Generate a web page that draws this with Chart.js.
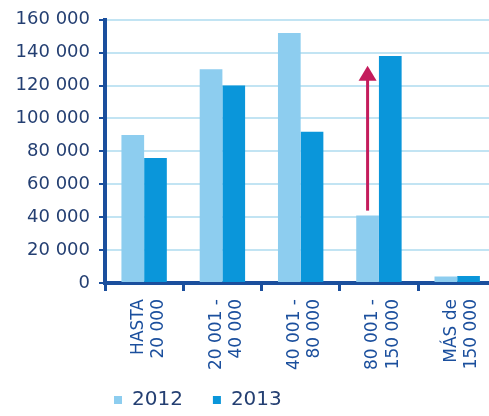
<!DOCTYPE html>
<html lang="es">
<head>
    <meta charset="UTF-8">
    <title>Declarantes por tramo de renta</title>
    <script src="https://cdn.jsdelivr.net/npm/chart.js"></script>
    <style>
        * {
            margin: 0;
            padding: 0;
            box-sizing: border-box;
        }

        body {
            background: #ffffff;
            overflow: hidden;
            width: 489px;
            height: 416px;
        }

        canvas {
            display: block;
        }
    </style>
</head>
<body>
    <canvas id="tramos" width="506" height="416"></canvas>

    <script>
        // tramos de renta (etiquetas en dos líneas)
        const categories = [
            ['HASTA', '20 000'],
            ['20 001 -', '40 000'],
            ['40 001 -', '80 000'],
            ['80 001 -', '150 000'],
            ['MÁS de', '150 000']
        ];
        const seriesNames = ['2012', '2013'];
        const values2012 = [90000, 130000, 152000, 41000, 4000];
        const values2013 = [76000, 120000, 92000, 138000, 4300];
        const yTicks = [0, 20000, 40000, 60000, 80000, 100000, 120000, 140000, 160000];

        // flecha de subida en el tramo 80 001 - 150 000
        const arrowIndex = 3;
        const arrowFrom = 44000;
        const arrowTo = 132000;

        const axisBlue = '#1b4f9d';
        const labelBlue = '#243f72';
        const gridBlue = '#c2e4f3';

        // separador de miles con espacio
        const fmt = v => String(v).replace(/\B(?=(\d{3})+(?!\d))/g, ' ');

        // dibuja la flecha sobre la barra de 2012
        const arrowPlugin = {
            id: 'arrow',
            afterDatasetsDraw(chart) {
                const bar = chart.getDatasetMeta(0).data[arrowIndex];
                const y = chart.scales.y;
                const x = bar.x;
                const y1 = y.getPixelForValue(arrowFrom);
                const y2 = y.getPixelForValue(arrowTo);
                const ctx = chart.ctx;
                ctx.save();
                ctx.strokeStyle = '#c41c5c';
                ctx.fillStyle = '#c41c5c';
                ctx.lineWidth = 3;
                ctx.beginPath();
                ctx.moveTo(x, y1);
                ctx.lineTo(x, y2 + 12);
                ctx.stroke();
                ctx.beginPath();
                ctx.moveTo(x, y2);
                ctx.lineTo(x - 9, y2 + 15);
                ctx.lineTo(x + 9, y2 + 15);
                ctx.closePath();
                ctx.fill();
                ctx.restore();
            }
        };

        // leyenda compacta: altura fija y alineada bajo el eje
        const legendPlace = {
            id: 'legendPlace',
            beforeLayout(chart) {
                const lg = chart.legend;
                if (lg && !lg._fitFixed) {
                    const fit = lg.fit;
                    lg.fit = function () {
                        fit.call(this);
                        this.height = 34;
                    };
                    lg._fitFixed = true;
                }
            },
            afterLayout(chart) {
                const lg = chart.legend;
                lg.left = 84;
                lg.top = 360;
            }
        };

        new Chart(document.getElementById('tramos'), {
            type: 'bar',
            data: {
                labels: categories,
                datasets: [
                    {
                        label: seriesNames[0],
                        data: values2012,
                        backgroundColor: '#8dcdef'
                    },
                    {
                        label: seriesNames[1],
                        data: values2013,
                        backgroundColor: '#0a96da'
                    }
                ]
            },
            options: {
                responsive: false,
                animation: false,
                layout: {
                    padding: { top: 6, right: 0, left: 0, bottom: 0 }
                },
                datasets: {
                    bar: {
                        categoryPercentage: 0.58,
                        barPercentage: 1.0
                    }
                },
                plugins: {
                    tooltip: { enabled: false },
                    legend: {
                        position: 'bottom',
                        align: 'start',
                        labels: {
                            boxWidth: 8,
                            boxHeight: 8,
                            padding: 30,
                            color: labelBlue,
                            font: { family: 'DejaVu Sans', size: 20 }
                        }
                    }
                },
                scales: {
                    x: {
                        afterFit: s => { s.height = 99; },
                        border: { color: axisBlue, width: 4 },
                        grid: {
                            offset: true,
                            drawOnChartArea: false,
                            color: axisBlue,
                            tickColor: axisBlue,
                            tickLength: 8,
                            lineWidth: 3
                        },
                        ticks: {
                            minRotation: 90,
                            maxRotation: 90,
                            padding: 8,
                            labelOffset: -6,
                            color: axisBlue,
                            font: { family: 'DejaVu Sans', size: 17, lineHeight: 1.2 }
                        }
                    },
                    y: {
                        min: 0,
                        max: 160000,
                        afterFit: s => { s.width = 105; },
                        afterBuildTicks: s => { s.ticks = yTicks.map(v => ({ value: v })); },
                        border: { color: axisBlue, width: 4 },
                        grid: {
                            color: gridBlue,
                            tickColor: axisBlue,
                            tickLength: 6,
                            lineWidth: 2
                        },
                        ticks: {
                            padding: 9,
                            color: labelBlue,
                            font: { family: 'DejaVu Sans', size: 18 },
                            callback: v => fmt(v)
                        }
                    }
                }
            },
            plugins: [arrowPlugin, legendPlace]
        });
    </script>
</body>
</html>
